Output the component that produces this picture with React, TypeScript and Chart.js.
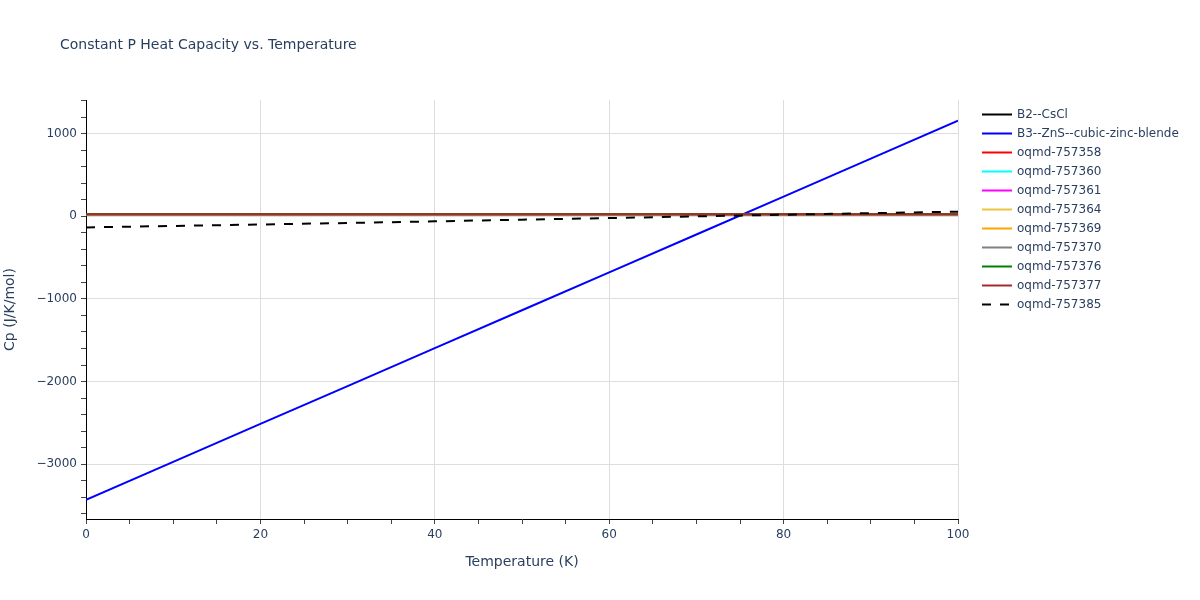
import { useEffect, useRef } from "react";
import { Chart, registerables } from "chart.js";

Chart.register(...registerables);

// temperature grid (K)
const temps = [0, 10, 20, 30, 40, 50, 60, 70, 80, 90, 100];

const seriesNames = [
    "B2--CsCl",
    "B3--ZnS--cubic-zinc-blende",
    "oqmd-757358",
    "oqmd-757360",
    "oqmd-757361",
    "oqmd-757364",
    "oqmd-757369",
    "oqmd-757370",
    "oqmd-757376",
    "oqmd-757377",
    "oqmd-757385",
];

const seriesColors = [
    "#000000",
    "#0000ff",
    "#ff0000",
    "#00ffff",
    "#ff00ff",
    "#ebc440",
    "#ffa500",
    "#808080",
    "#008000",
    "#a52a2a",
    "#000000",
];

// Cp values (J/K/mol)
const cpB2 = [24.5, 24.6, 24.6, 24.7, 24.7, 24.8, 24.8, 24.8, 24.9, 24.9, 24.9];
const cpB3 = [-3430, -2972, -2513, -2055, -1596, -1138, -679, -221, 238, 696, 1155];
const cp358 = [24.6, 24.6, 24.7, 24.7, 24.8, 24.8, 24.8, 24.9, 24.9, 24.9, 25.0];
const cp360 = [24.4, 24.5, 24.5, 24.6, 24.6, 24.7, 24.7, 24.8, 24.8, 24.8, 24.9];
const cp361 = [24.5, 24.5, 24.6, 24.6, 24.7, 24.7, 24.8, 24.8, 24.8, 24.9, 24.9];
const cp364 = [24.3, 24.4, 24.5, 24.5, 24.6, 24.6, 24.7, 24.7, 24.8, 24.8, 24.8];
const cp369 = [24.4, 24.4, 24.5, 24.6, 24.6, 24.7, 24.7, 24.7, 24.8, 24.8, 24.9];
const cp370 = [24.2, 24.3, 24.4, 24.4, 24.5, 24.6, 24.6, 24.7, 24.7, 24.8, 24.8];
const cp376 = [24.5, 24.6, 24.6, 24.7, 24.7, 24.8, 24.8, 24.9, 24.9, 24.9, 25.0];
const cp377 = [24.6, 24.7, 24.7, 24.8, 24.8, 24.9, 24.9, 24.9, 25.0, 25.0, 25.1];
const cp385 = [-135, -118, -100, -82, -62, -42, -22, -2, 18, 37, 55];

const seriesValues = [cpB2, cpB3, cp358, cp360, cp361, cp364, cp369, cp370, cp376, cp377, cp385];
const dashedSeries = ["oqmd-757385"];

const FONT = '"DejaVu Sans", Verdana, sans-serif';
const TEXT = "#2a3f5f";

const minus = (v: number) => String(v).replace("-", "\u2212");

const titleAndLegend = {
    id: "titleAndLegend",
    afterDraw(chart: Chart) {
        const ctx = chart.ctx;
        ctx.save();
        ctx.fillStyle = TEXT;
        ctx.textBaseline = "middle";
        ctx.textAlign = "left";
        ctx.font = `14px ${FONT}`;
        ctx.fillText("Constant P Heat Capacity vs. Temperature", 60, 45);

        ctx.font = `12px ${FONT}`;
        chart.data.datasets.forEach((ds: any, i: number) => {
            const y = 114.5 + i * 19;
            ctx.beginPath();
            ctx.setLineDash(ds.borderDash || []);
            ctx.strokeStyle = ds.borderColor;
            ctx.lineWidth = 2;
            ctx.moveTo(982, y);
            ctx.lineTo(1012, y);
            ctx.stroke();
            ctx.setLineDash([]);
            ctx.fillStyle = TEXT;
            ctx.fillText(ds.label, 1017, y);
        });
        ctx.restore();
    },
};

const HeatCapacityChart = () => {
    const chartRef = useRef<HTMLCanvasElement | null>(null);

    useEffect(() => {
        document.body.style.margin = "0";
        if (!chartRef.current) return;
        const ctx = chartRef.current.getContext("2d");
        if (!ctx) return;

        const n = seriesNames.length;
        const myChart = new Chart(ctx, {
            type: "line",
            data: {
                datasets: seriesNames.map((name, i) => ({
                    label: name,
                    data: temps.map((t, j) => ({ x: t, y: seriesValues[i][j] })),
                    borderColor: seriesColors[i],
                    backgroundColor: seriesColors[i],
                    borderWidth: 2,
                    borderDash: dashedSeries.includes(name) ? [9, 9] : [],
                    pointRadius: 0,
                    tension: 0,
                    fill: false,
                    order: n - 1 - i,
                })),
            },
            options: {
                responsive: false,
                animation: false,
                devicePixelRatio: 1,
                layout: { padding: { top: 100, right: 242, bottom: 0, left: 0 } },
                plugins: {
                    legend: { display: false },
                    title: { display: false },
                    tooltip: { enabled: false },
                },
                scales: {
                    x: {
                        type: "linear",
                        min: 0,
                        max: 100,
                        afterFit: (scale: any) => { scale.height = 81; },
                        border: { display: true, color: "#000000", width: 1 },
                        grid: {
                            color: (c: any) => (c.tick && c.tick.value % 20 === 0 ? "#dddddd" : "rgba(0,0,0,0)"),
                            tickColor: "#444444",
                            tickLength: 5,
                        },
                        ticks: {
                            stepSize: 5,
                            autoSkip: false,
                            maxRotation: 0,
                            padding: 4,
                            color: TEXT,
                            font: { family: FONT, size: 12 },
                            callback: (v: any) => (Number(v) % 20 === 0 ? String(v) : ""),
                        },
                        title: {
                            display: true,
                            text: "Temperature (K)",
                            color: TEXT,
                            font: { family: FONT, size: 14 },
                            padding: { top: 0, bottom: 29 },
                        },
                    },
                    y: {
                        type: "linear",
                        min: -3663,
                        max: 1406,
                        afterFit: (scale: any) => { scale.width = 86; },
                        border: { display: true, color: "#000000", width: 1 },
                        grid: {
                            color: (c: any) => (c.tick && c.tick.value % 1000 === 0 ? "#dddddd" : "rgba(0,0,0,0)"),
                            tickColor: "#444444",
                            tickLength: 5,
                        },
                        ticks: {
                            stepSize: 200,
                            includeBounds: false,
                            autoSkip: false,
                            padding: 4,
                            color: TEXT,
                            font: { family: FONT, size: 12 },
                            callback: (v: any) => (Number(v) % 1000 === 0 ? minus(Number(v)) : ""),
                        },
                        title: {
                            display: true,
                            text: "Cp (J/K/mol)",
                            color: TEXT,
                            font: { family: FONT, size: 14 },
                            padding: { top: 2, bottom: 0 },
                        },
                    },
                },
            },
            plugins: [titleAndLegend],
        });

        return () => {
            myChart.destroy();
        };
    }, []);

    return (
        <div style={{ width: 1200, height: 600 }}>
            <canvas ref={chartRef} width={1200} height={600}></canvas>
        </div>
    );
};

export default function App() {
    return <HeatCapacityChart />;
}
